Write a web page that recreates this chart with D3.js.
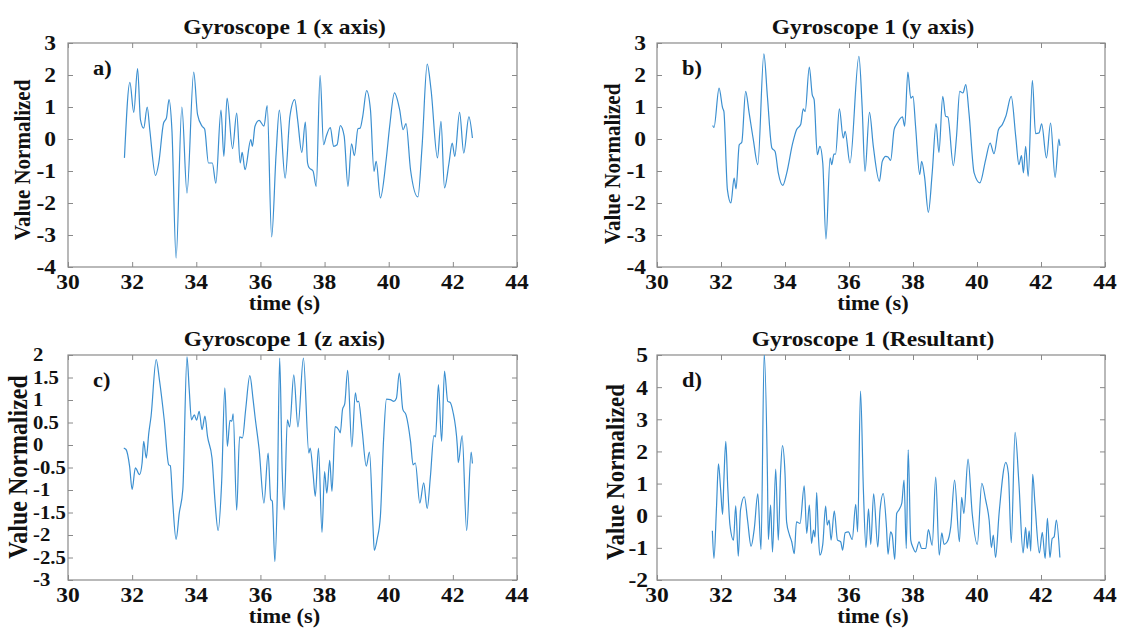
<!DOCTYPE html>
<html>
<head>
<meta charset="utf-8">
<script src="https://cdn.jsdelivr.net/npm/d3@7"></script>
<style>
  body { margin: 0; background: #fff; }
  text { font-family: "Liberation Serif", "Times New Roman", serif; font-weight: bold; fill: #111; }
</style>
</head>
<body>
<svg id="chart" width="1123" height="628"></svg>
<script>
// values, [time (s), value]

var gyroX = [[31.76,-0.59],[31.93,1.77],[32.05,0.83],[32.17,2.2],[32.26,0.6],[32.36,0.34],[32.47,1.0],[32.55,0.29],[32.73,-1.14],[32.83,-0.75],[32.98,0.5],[33.07,0.66],[33.15,1.23],[33.24,0.29],[33.37,-3.72],[33.55,1.0],[33.71,-1.69],[33.92,2.09],[34.04,0.76],[34.18,0.4],[34.26,0.31],[34.38,-0.75],[34.5,-0.75],[34.61,-1.38],[34.77,0.9],[34.86,-0.54],[34.96,1.28],[35.13,-0.3],[35.26,0.81],[35.37,-0.75],[35.43,-0.42],[35.52,-0.96],[35.7,-0.02],[35.75,-0.23],[35.83,0.4],[35.96,0.58],[36.11,0.4],[36.21,1.04],[36.35,-3.06],[36.49,-0.44],[36.59,0.9],[36.77,-1.22],[36.92,0.71],[37.07,1.23],[37.16,0.6],[37.29,-0.42],[37.4,0.53],[37.47,-0.75],[37.52,-0.9],[37.64,-1.0],[37.74,-1.48],[37.86,1.99],[37.97,-0.18],[38.05,0.08],[38.18,0.36],[38.28,-0.23],[38.39,-0.18],[38.49,0.42],[38.61,0.1],[38.73,-1.48],[38.84,-0.15],[38.93,-0.52],[39.04,0.32],[39.11,0.34],[39.19,0.71],[39.31,1.51],[39.43,0.92],[39.54,-1.01],[39.61,-0.7],[39.74,-1.84],[39.92,-0.65],[40.03,0.4],[40.18,1.44],[40.34,0.92],[40.45,0.29],[40.54,0.48],[40.68,-0.96],[40.91,-1.81],[41.04,-0.23],[41.2,2.34],[41.32,1.54],[41.52,-0.59],[41.63,0.55],[41.74,-1.53],[41.88,-0.75],[41.98,-0.13],[42.06,-0.54],[42.21,0.83],[42.34,-0.44],[42.5,0.69],[42.61,0.03]]

var gyroY = [[31.74,0.42],[31.78,0.36],[31.94,1.59],[32.05,0.97],[32.09,0.86],[32.2,-1.58],[32.31,-2.0],[32.41,-1.22],[32.47,-1.56],[32.57,-0.18],[32.65,-0.1],[32.77,1.49],[32.88,0.81],[33.01,-0.02],[33.15,-0.8],[33.34,2.66],[33.45,1.33],[33.59,-0.28],[33.69,-0.39],[33.79,-1.06],[33.93,-1.45],[34.05,-1.08],[34.24,-0.13],[34.36,0.29],[34.49,0.45],[34.57,0.94],[34.63,0.86],[34.76,2.25],[34.85,1.39],[34.91,1.23],[35.01,-0.49],[35.09,-0.23],[35.18,-0.75],[35.28,-3.13],[35.41,-0.59],[35.46,-0.8],[35.53,-0.47],[35.58,-0.47],[35.7,0.94],[35.82,0.03],[35.88,0.24],[36.03,-0.75],[36.31,2.58],[36.41,1.02],[36.5,-1.01],[36.64,0.83],[36.76,-0.23],[36.95,-1.32],[37.04,-0.7],[37.15,-0.54],[37.22,-0.56],[37.3,-0.67],[37.41,0.29],[37.51,0.5],[37.67,0.69],[37.74,0.4],[37.84,2.09],[37.93,1.28],[38.0,1.33],[38.08,0.4],[38.21,-1.11],[38.27,-0.7],[38.36,-1.17],[38.48,-2.29],[38.6,-1.06],[38.72,0.48],[38.81,-0.42],[38.93,1.33],[39.02,0.71],[39.09,0.69],[39.26,-0.83],[39.36,0.08],[39.46,1.49],[39.56,1.44],[39.65,1.7],[39.75,0.81],[39.91,-1.06],[40.09,-1.37],[40.27,-0.65],[40.41,-0.13],[40.53,-0.46],[40.67,0.29],[40.79,0.45],[40.9,0.71],[41.07,1.33],[41.21,0.08],[41.31,-0.8],[41.39,-0.52],[41.45,-1.06],[41.52,-0.23],[41.6,-1.17],[41.73,1.83],[41.83,0.17],[41.94,0.19],[42.02,0.47],[42.17,-0.59],[42.3,0.5],[42.44,-1.2],[42.56,0.0],[42.59,-0.21]]

var gyroZ = [[31.74,-0.07],[31.81,-0.1],[31.92,-0.47],[32.0,-0.99],[32.1,-0.51],[32.23,-0.66],[32.31,-0.4],[32.36,0.08],[32.44,-0.29],[32.52,0.27],[32.59,0.64],[32.75,1.9],[32.85,1.45],[33.0,0.56],[33.14,-0.44],[33.19,-0.46],[33.26,-1.21],[33.37,-2.1],[33.47,-1.51],[33.58,-0.99],[33.71,1.96],[33.78,1.23],[33.85,0.56],[33.94,0.67],[34.01,0.55],[34.09,0.75],[34.18,0.34],[34.27,0.64],[34.35,0.19],[34.49,-0.29],[34.58,-1.21],[34.68,-1.9],[34.79,-0.84],[34.89,1.27],[34.97,-0.03],[35.05,0.55],[35.11,0.53],[35.15,0.69],[35.26,-1.45],[35.35,0.18],[35.44,0.16],[35.54,0.79],[35.67,1.54],[35.77,1.02],[35.83,0.64],[35.96,-0.1],[36.11,-1.29],[36.24,-0.18],[36.32,-1.21],[36.37,-1.25],[36.45,-2.59],[36.53,-0.99],[36.6,1.93],[36.68,-0.62],[36.74,-1.44],[36.84,0.56],[36.91,0.4],[37.04,1.56],[37.17,0.4],[37.34,1.93],[37.51,-0.18],[37.55,-0.07],[37.64,-0.62],[37.71,-1.14],[37.81,-0.07],[37.92,-1.94],[38.0,-0.59],[38.07,-1.07],[38.16,-0.34],[38.23,-1.03],[38.33,0.41],[38.44,0.34],[38.49,0.27],[38.56,0.79],[38.63,0.92],[38.72,1.66],[38.85,-0.04],[38.96,1.16],[39.01,0.96],[39.06,0.97],[39.17,0.34],[39.3,-0.47],[39.4,-0.16],[39.51,-1.81],[39.55,-2.34],[39.64,-2.09],[39.74,-1.59],[39.84,0.12],[39.93,1.02],[40.05,1.01],[40.16,0.97],[40.24,1.04],[40.33,1.6],[40.44,0.79],[40.54,0.67],[40.68,0.08],[40.76,-0.44],[40.83,-0.4],[40.97,-1.29],[41.09,-0.84],[41.2,-1.41],[41.3,-0.7],[41.41,0.21],[41.46,0.18],[41.55,1.34],[41.65,0.08],[41.74,1.64],[41.84,0.97],[41.91,0.95],[42.0,0.75],[42.14,-0.03],[42.17,-0.39],[42.29,0.21],[42.43,-1.9],[42.57,-0.16],[42.61,-0.41]]

var gyroRes = [[31.73,-0.47],[31.78,-1.33],[31.86,0.28],[31.92,1.61],[31.99,0.8],[32.05,0.04],[32.09,1.11],[32.15,2.31],[32.21,0.91],[32.28,-0.29],[32.39,-0.76],[32.46,0.31],[32.54,-1.26],[32.61,0.18],[32.73,0.59],[32.83,-0.14],[32.94,-0.95],[33.04,-0.4],[33.15,0.68],[33.25,-1.05],[33.35,5.05],[33.45,1.32],[33.48,-0.74],[33.55,0.33],[33.61,-1.13],[33.71,1.45],[33.79,-0.76],[33.86,1.32],[33.92,2.18],[34.0,1.32],[34.05,-0.19],[34.14,-0.6],[34.21,-0.81],[34.29,-1.18],[34.36,-0.19],[34.47,-0.24],[34.6,0.93],[34.68,-0.55],[34.76,0.33],[34.83,-0.86],[34.89,-0.45],[34.94,-0.66],[34.99,0.72],[35.04,-0.55],[35.09,-1.23],[35.18,-0.89],[35.27,0.3],[35.32,-0.29],[35.38,-0.14],[35.44,-0.76],[35.54,0.15],[35.64,-0.76],[35.74,-0.81],[35.8,-1.07],[35.88,-0.53],[35.98,-0.5],[36.1,-0.74],[36.21,0.35],[36.27,-0.5],[36.36,3.88],[36.45,0.8],[36.53,-0.99],[36.61,0.21],[36.68,-0.89],[36.77,0.68],[36.9,-0.97],[36.97,0.18],[37.07,0.69],[37.17,-0.34],[37.22,-1.2],[37.3,-0.5],[37.35,-0.6],[37.43,-1.36],[37.49,0.07],[37.56,0.18],[37.65,0.39],[37.72,1.11],[37.79,-1.02],[37.85,2.05],[37.93,-0.76],[38.0,-0.99],[38.08,-1.13],[38.19,-0.81],[38.27,-1.02],[38.4,-1.02],[38.48,-0.43],[38.6,-0.92],[38.71,1.2],[38.82,-1.23],[38.9,-0.53],[38.97,-0.89],[39.07,-0.81],[39.18,-0.34],[39.3,1.11],[39.45,-0.81],[39.52,0.57],[39.59,0.07],[39.72,1.76],[39.85,0.07],[40.01,-0.89],[40.15,1.01],[40.27,0.49],[40.38,-0.14],[40.45,-0.99],[40.51,-0.6],[40.58,-1.3],[40.69,0.07],[40.9,1.66],[40.98,1.32],[41.07,-0.84],[41.19,2.59],[41.31,1.01],[41.44,-1.16],[41.52,-0.36],[41.57,-1.02],[41.63,-0.47],[41.68,-1.1],[41.74,1.29],[41.81,0.39],[41.95,-1.16],[42.04,-0.52],[42.13,-1.33],[42.2,-0.08],[42.28,-1.3],[42.35,-0.71],[42.41,-0.66],[42.48,-0.14],[42.59,-1.3]]

// axis ticks
var timeTicks = [30, 32, 34, 36, 38, 40, 42, 44]
var ticksXY  = [-4, -3, -2, -1, 0, 1, 2, 3]
var ticksZ   = [-3, -2.5, -2, -1.5, -1, -0.5, 0, 0.5, 1, 1.5, 2]
var ticksRes = [-2, -1, 0, 1, 2, 3, 4, 5]

var titles = ['Gyroscope 1 (x axis)', 'Gyroscope 1 (y axis)', 'Gyroscope 1 (z axis)', 'Gyroscope 1 (Resultant)']
var tags   = ['a)', 'b)', 'c)', 'd)']

// layout of the four panels (pixels)
var panels = [
  {data: gyroX,   ticks: ticksXY,  left: 68,  right: 517,  top: 43,  bottom: 267, ylabX: 22,  ytickX: 56,  ytickAnchor: 'end',   ytickSize: 21, ylabSize: 21, ylabY: 160},
  {data: gyroY,   ticks: ticksXY,  left: 657, right: 1105, top: 43,  bottom: 267, ylabX: 612, ytickX: 646, ytickAnchor: 'end',   ytickSize: 21, ylabSize: 21, ylabY: 164},
  {data: gyroZ,   ticks: ticksZ,   left: 68,  right: 517,  top: 355, bottom: 580, ylabX: 18,  ytickX: 33,  ytickAnchor: 'start', ytickSize: 18.5, ylabSize: 24, ylabY: 467},
  {data: gyroRes, ticks: ticksRes, left: 657, right: 1105, top: 355, bottom: 580, ylabX: 615, ytickX: 648, ytickAnchor: 'end',   ytickSize: 21, ylabSize: 23, ylabY: 472}
]

var svg = d3.select('#chart')
var SX = 1.12   // the figure's lettering is a little stretched sideways
var boxColor = '#8a8a8a'
var lineColor = '#3b8fd0'

function putText (g, x, y, str, size, anchor) {
  return g.append('text')
    .attr('transform', 'translate(' + x + ',' + y + ') scale(' + SX + ',1)')
    .attr('text-anchor', anchor)
    .style('font-size', size + 'px')
    .text(str)
}

panels.forEach(function (p, i) {
  var x = d3.scaleLinear().domain([30, 44]).range([p.left, p.right])
  var y = d3.scaleLinear().domain(d3.extent(p.ticks)).range([p.bottom, p.top])
  var g = svg.append('g')

  // box + inward ticks on all four sides
  g.append('rect').attr('x', p.left).attr('y', p.top)
    .attr('width', p.right - p.left).attr('height', p.bottom - p.top)
    .attr('fill', 'none').attr('stroke', boxColor).attr('stroke-width', 1.2)

  var axes = [
    [d3.axisBottom(x).tickValues(timeTicks), 'translate(0,' + p.bottom + ')'],
    [d3.axisTop(x).tickValues(timeTicks), 'translate(0,' + p.top + ')'],
    [d3.axisLeft(y).tickValues(p.ticks), 'translate(' + p.left + ',0)'],
    [d3.axisRight(y).tickValues(p.ticks), 'translate(' + p.right + ',0)']
  ]
  axes.forEach(function (a) {
    var ag = g.append('g').attr('transform', a[1])
      .call(a[0].tickSize(-5).tickFormat(''))
    ag.select('.domain').remove()
    ag.selectAll('line').attr('stroke', boxColor)
  })

  // tick labels
  timeTicks.forEach(function (t) { putText(g, x(t), p.bottom + 22, t, 21, 'middle') })
  p.ticks.forEach(function (v) {
    putText(g, p.ytickX, y(v), v, p.ytickSize, p.ytickAnchor).attr('dy', '0.35em')
  })

  // titles and labels
  putText(g, (p.left + p.right) / 2 - 8, p.top - 9, titles[i], 21, 'middle')
  putText(g, (p.left + p.right) / 2 - 8, p.bottom + 43, 'time (s)', 20, 'middle')
  putText(g, p.left + 25, p.top + 32, tags[i], 20, 'start')
  g.append('text')
    .attr('transform', 'translate(' + p.ylabX + ',' + p.ylabY + ') rotate(-90) scale(1,' + SX + ')')
    .attr('text-anchor', 'middle').attr('dy', '0.35em')
    .style('font-size', p.ylabSize + 'px')
    .text('Value Normalized')

  // signal
  var clipId = 'clip' + i
  g.append('clipPath').attr('id', clipId).append('rect')
    .attr('x', p.left).attr('y', p.top).attr('width', p.right - p.left).attr('height', p.bottom - p.top)
  var line = d3.line().x(function (d) { return x(d[0]) }).y(function (d) { return y(d[1]) })
    .curve(d3.curveMonotoneX)
  g.append('path').datum(p.data)
    .attr('clip-path', 'url(#' + clipId + ')')
    .attr('d', line)
    .attr('fill', 'none').attr('stroke', lineColor).attr('stroke-width', 1.2)
})
</script>
</body>
</html>
